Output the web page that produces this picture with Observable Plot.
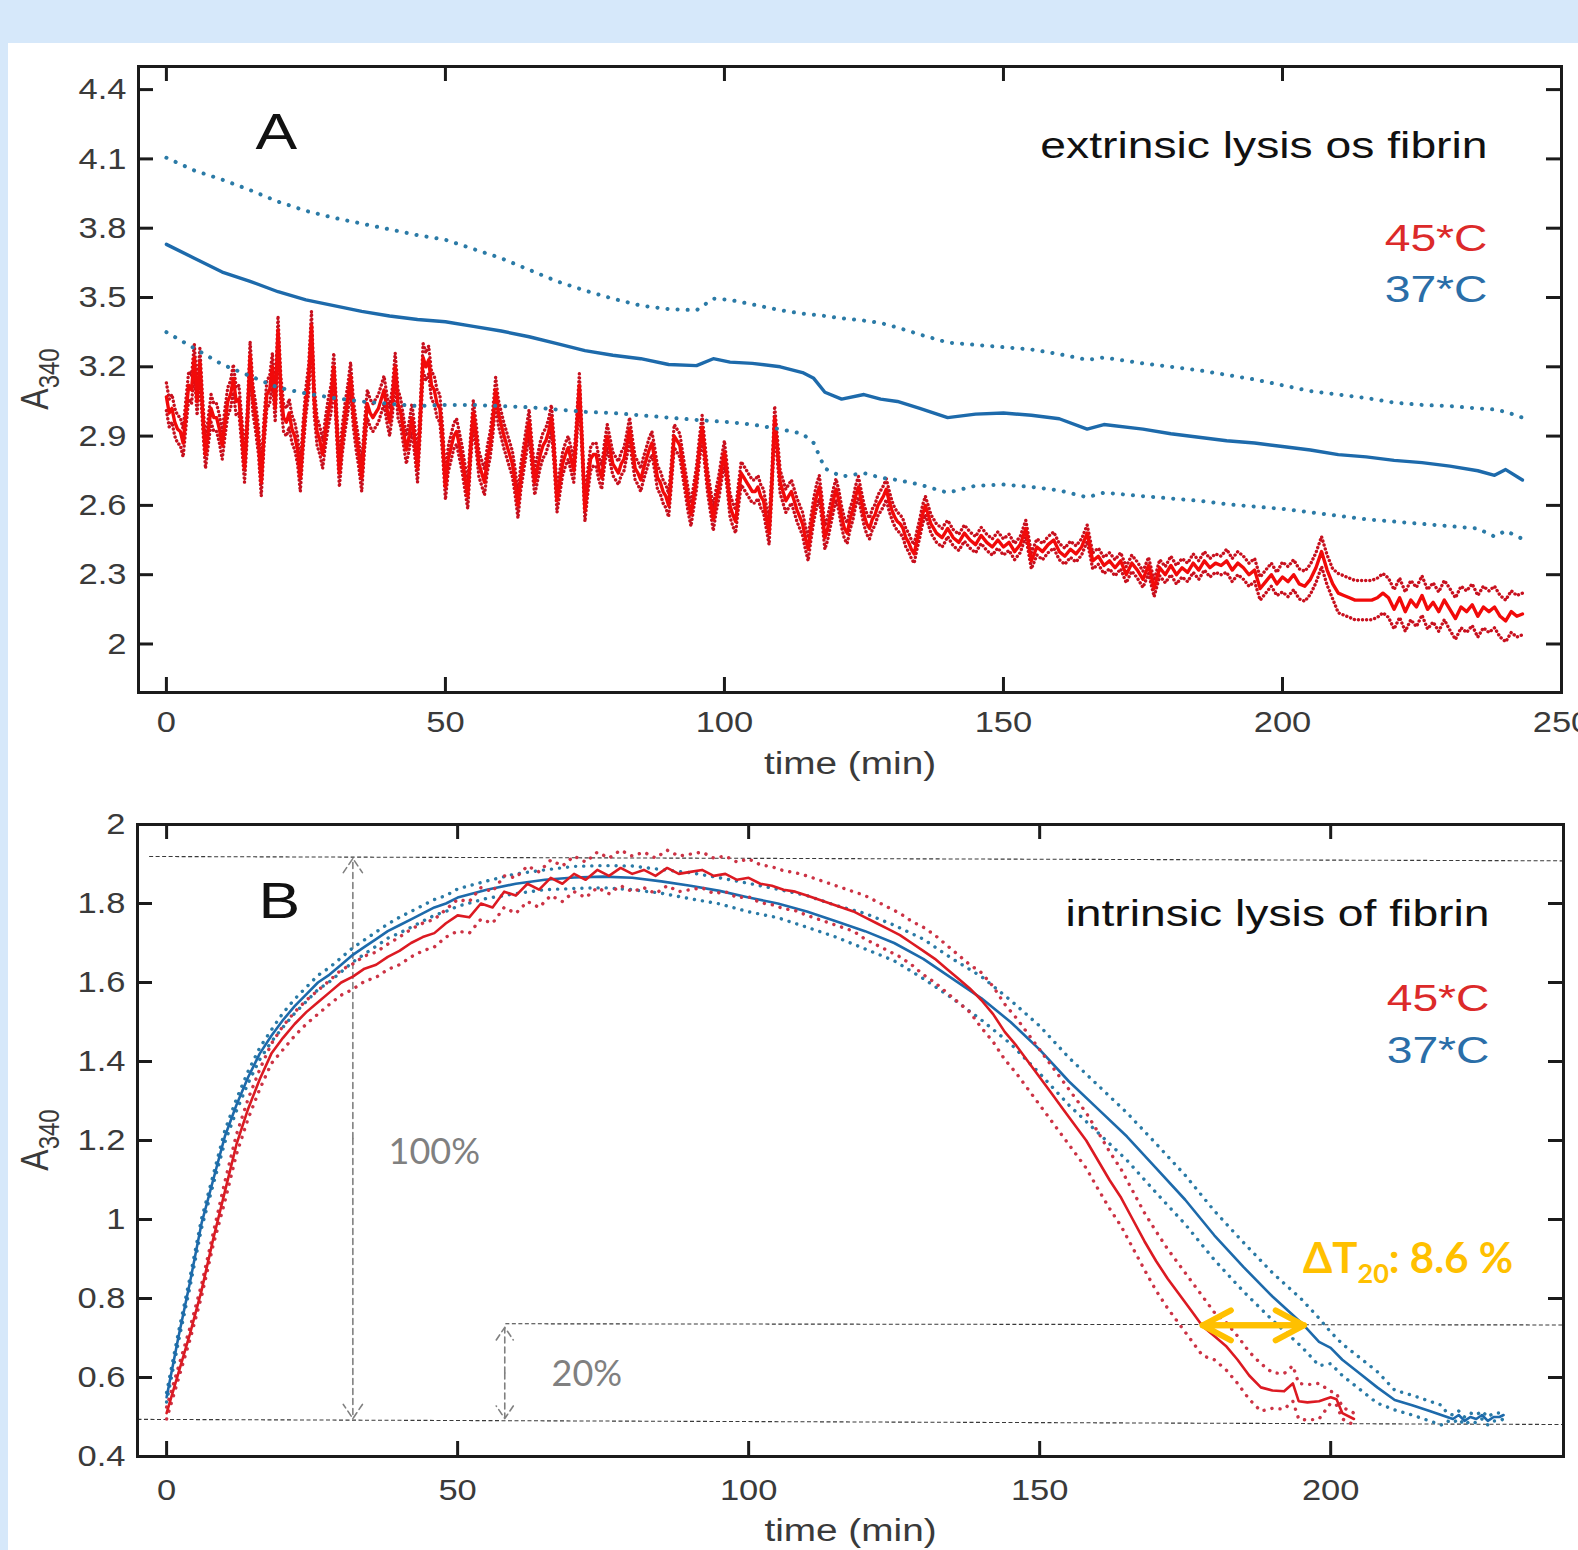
<!DOCTYPE html>
<html><head><meta charset="utf-8">
<script src="https://cdn.jsdelivr.net/npm/d3@7"></script>
<script src="https://cdn.jsdelivr.net/npm/@observablehq/plot@0.6"></script>
<style>
html,body{margin:0;padding:0;width:1578px;height:1550px;overflow:hidden;background:#d6e8fa;}
#page{position:relative;width:1578px;height:1550px;}
#sheet{position:absolute;left:8px;top:43px;width:1570px;height:1507px;background:#fff;}
#a{position:absolute;left:0;top:0;}
#b{position:absolute;left:0;top:800px;}
</style></head>
<body><div id="page"><div id="sheet"></div><div id="a"></div><div id="b"></div></div>
<script>
// ---------------- DATA ----------------
// Panel A : extrinsic lysis, A340 vs time (min)
const xTicksA = [0, 50, 100, 150, 200, 250];
const yTicksA = [2, 2.3, 2.6, 2.9, 3.2, 3.5, 3.8, 4.1, 4.4];
// 45*C mean, read at every whole minute (t = 0..243)
const redAMean = [
 3.07,3.02,2.93,2.87,3.12,3.24,3.22,2.82,3.02,2.98,
 2.86,3.05,3.15,3.06,2.76,3.25,2.98,2.70,3.08,3.20,
 3.36,2.98,3.00,2.90,2.72,3.05,3.38,2.92,2.82,3.00,
 3.20,2.74,2.98,3.16,2.90,2.72,3.04,2.98,3.02,3.10,
 2.96,3.20,3.00,2.84,2.98,2.76,3.24,3.23,3.10,3.02,
 2.68,2.85,2.92,2.80,2.64,3.00,2.78,2.70,2.86,3.10,
 2.95,2.86,2.78,2.60,2.80,2.96,2.70,2.82,2.88,2.98,
 2.62,2.78,2.85,2.75,3.12,2.58,2.80,2.82,2.72,2.90,
 2.78,2.74,2.80,2.93,2.76,2.71,2.80,2.87,2.72,2.66,
 2.60,2.90,2.86,2.70,2.56,2.72,2.94,2.70,2.54,2.68,
 2.83,2.60,2.53,2.74,2.70,2.66,2.68,2.62,2.48,2.98,
 2.70,2.62,2.66,2.58,2.52,2.41,2.58,2.68,2.46,2.56,
 2.67,2.55,2.48,2.58,2.68,2.56,2.50,2.56,2.62,2.67,
 2.58,2.53,2.50,2.44,2.39,2.50,2.60,2.52,2.48,2.46,
 2.50,2.46,2.44,2.48,2.45,2.43,2.47,2.44,2.42,2.45,
 2.42,2.44,2.40,2.43,2.50,2.36,2.42,2.40,2.43,2.45,
 2.40,2.38,2.41,2.39,2.42,2.48,2.36,2.38,2.34,2.36,
 2.33,2.36,2.30,2.35,2.32,2.28,2.34,2.24,2.33,2.30,
 2.34,2.30,2.33,2.31,2.35,2.32,2.36,2.33,2.35,2.34,
 2.36,2.32,2.35,2.33,2.30,2.32,2.24,2.27,2.30,2.26,
 2.29,2.27,2.30,2.26,2.25,2.28,2.33,2.40,2.32,2.26,
 2.22,2.21,2.20,2.19,2.19,2.19,2.19,2.20,2.22,2.20,
 2.15,2.20,2.14,2.19,2.16,2.21,2.15,2.18,2.14,2.19,
 2.15,2.11,2.16,2.14,2.17,2.12,2.16,2.14,2.16,2.12,
 2.10,2.14,2.12,2.13
];
// 45*C mean between the whole minutes (t = 0.5 .. 139.5), the dense noisy stretch
const redAHalf = [
 3.00,2.96,2.92,3.00,3.10,3.05,3.00,2.92,2.98,2.93,
 2.96,3.08,3.05,2.92,2.96,3.06,2.88,2.92,3.10,3.02,
 3.10,2.96,2.93,2.84,2.90,3.15,3.05,2.88,2.92,3.06,
 2.96,2.88,3.06,3.00,2.82,2.90,3.00,3.00,3.06,3.02,
 3.05,3.04,2.92,2.90,2.88,2.98,3.20,3.12,3.04,2.88,
 2.80,2.90,2.86,2.72,2.84,2.90,2.74,2.80,2.96,3.00,
 2.90,2.82,2.70,2.72,2.88,2.82,2.76,2.86,2.92,2.82,
 2.70,2.82,2.80,2.92,2.86,2.70,2.82,2.76,2.82,2.84,
 2.76,2.78,2.86,2.84,2.74,2.76,2.84,2.80,2.70,2.64,
 2.74,2.88,2.78,2.62,2.64,2.84,2.82,2.62,2.62,2.76,
 2.72,2.56,2.64,2.72,2.68,2.66,2.64,2.55,2.70,2.84,
 2.66,2.64,2.62,2.55,2.46,2.50,2.64,2.58,2.50,2.62,
 2.62,2.50,2.54,2.64,2.62,2.52,2.54,2.60,2.64,2.62,
 2.55,2.52,2.46,2.41,2.45,2.56,2.56,2.50,2.47,2.48
];
// 45*C standard deviation, one value per 10-minute block
const redASd = [0.06,0.06,0.06,0.06,0.06,0.055,0.055,0.05,0.05,0.05,0.05,0.05,0.045,0.04,0.035,0.035,0.035,0.035,0.04,0.05,0.065,0.085,0.085,0.09,0.09];
// 37*C
const blueATime  = [0,5,10,15,20,25,30,35,40,45,50,55,60,65,70,75,80,85,90,95,98,101,105,110,114,116,118,121,125,128,131,135,140,145,150,155,160,165,168,175,180,185,190,195,200,205,210,215,220,225,230,235,238,240,243];
const blueAMean  = [3.73,3.67,3.61,3.57,3.525,3.49,3.465,3.44,3.42,3.405,3.395,3.375,3.355,3.33,3.30,3.27,3.25,3.235,3.21,3.205,3.235,3.22,3.215,3.20,3.175,3.15,3.09,3.06,3.08,3.06,3.05,3.02,2.98,2.995,3.00,2.99,2.975,2.93,2.95,2.93,2.91,2.895,2.88,2.87,2.855,2.84,2.82,2.81,2.795,2.785,2.77,2.75,2.73,2.755,2.71];
const blueAUpper = [4.105,4.05,4.01,3.965,3.915,3.875,3.845,3.82,3.795,3.77,3.75,3.71,3.67,3.62,3.57,3.53,3.495,3.465,3.45,3.445,3.495,3.49,3.47,3.445,3.43,3.425,3.42,3.41,3.40,3.39,3.37,3.34,3.305,3.295,3.285,3.275,3.255,3.23,3.24,3.215,3.20,3.185,3.165,3.145,3.12,3.095,3.08,3.065,3.045,3.035,3.03,3.02,3.015,3.005,2.98];
const blueALower = [3.35,3.28,3.21,3.16,3.11,3.085,3.065,3.05,3.04,3.03,3.035,3.035,3.03,3.025,3.015,3.005,3.0,2.99,2.98,2.97,2.965,2.96,2.95,2.93,2.91,2.87,2.76,2.725,2.74,2.72,2.71,2.69,2.655,2.685,2.69,2.68,2.665,2.635,2.655,2.64,2.63,2.62,2.605,2.595,2.585,2.57,2.555,2.54,2.53,2.52,2.51,2.50,2.465,2.49,2.455];

// Panel B : intrinsic lysis
const xTicksB = [0, 50, 100, 150, 200];
const yTicksB = [0.4, 0.6, 0.8, 1, 1.2, 1.4, 1.6, 1.8, 2];
const redBTime = [0,2,4,6,8,10,12,14,16,18,20,22,24,26,28,30,32,34,36,38,40,42,44,46,48,50,52,54,56,58,60,62,64,66,68,70,72,74,76,78,80,82,84,86,88,90,92,94,96,98,100,102,104,106,108,110,112,114,116,118,120,122,124,126,128,130,132,134,136,138,140,142,144,146,148,150,152,154,156,158,160,162,164,166,168,170,172,174,176,178,180,182,184,186,188,190,192,193.5,194.5,196,198,200,201,202,204];
const redBMean = [0.51,0.61,0.71,0.82,0.95,1.07,1.19,1.28,1.355,1.42,1.46,1.495,1.525,1.55,1.575,1.60,1.615,1.635,1.645,1.665,1.68,1.70,1.715,1.725,1.75,1.77,1.765,1.80,1.79,1.83,1.82,1.85,1.835,1.865,1.85,1.875,1.86,1.885,1.87,1.89,1.875,1.885,1.87,1.89,1.875,1.88,1.885,1.87,1.875,1.86,1.865,1.85,1.845,1.835,1.83,1.82,1.81,1.80,1.79,1.78,1.765,1.75,1.735,1.72,1.70,1.68,1.66,1.635,1.61,1.585,1.555,1.52,1.475,1.44,1.40,1.36,1.32,1.28,1.24,1.20,1.15,1.10,1.055,1.00,0.945,0.895,0.85,0.81,0.77,0.73,0.705,0.68,0.645,0.605,0.575,0.567,0.565,0.585,0.54,0.537,0.54,0.55,0.545,0.51,0.495];
const redBSd = [0.015,0.025,0.03,0.032,0.035,0.04,0.045,0.045,0.045,0.045,0.048,0.05,0.055,0.06,0.07,0.07,0.072,0.075,0.06,0.045,0.015];
const blueBTime = [0,2,4,6,8,10,12,14,16,18,20,22,24,26,28,30,32,34,36,38,40,42,44,46,48,50,55,60,65,70,75,80,85,90,95,100,105,110,115,120,125,130,135,140,145,150,155,160,165,170,175,180,185,190,195,198,200,202,205,208,211,214,217,219,220,221,222,223,224,225,226,227,228,229,229.7];
const blueBMean = [0.55,0.70,0.84,0.99,1.10,1.21,1.29,1.36,1.42,1.465,1.505,1.54,1.57,1.60,1.62,1.645,1.67,1.69,1.71,1.73,1.745,1.76,1.775,1.79,1.80,1.815,1.835,1.85,1.86,1.866,1.868,1.865,1.856,1.845,1.832,1.815,1.80,1.78,1.755,1.73,1.70,1.66,1.61,1.56,1.50,1.43,1.35,1.28,1.21,1.13,1.05,0.96,0.88,0.805,0.738,0.69,0.675,0.645,0.61,0.575,0.543,0.53,0.515,0.505,0.50,0.495,0.505,0.49,0.50,0.495,0.505,0.49,0.50,0.50,0.505];
const blueBSd = [0.012,0.015,0.018,0.018,0.02,0.022,0.025,0.028,0.03,0.033,0.036,0.04,0.045,0.05,0.055,0.06,0.06,0.062,0.062,0.06,0.04,0.025,0.01,0.01];
// reference levels drawn on panel B (maximum, baseline, 20 % level)
const refX1 = [-3, -5, 58.2];
const refY1 = [1.919, 0.494, 0.736];
const refX2 = [240, 240, 240];
const refY2 = [1.908, 0.481, 0.733];
// measuring arrows: 100 % span and 20 % span
const spanT    = [32, 58.1];
const spanLow  = [0.496, 0.496];
const spanHigh = [1.914, 0.727];
// ΔT20 arrow between the two curves at the 20 % level
const dT20Start = 178.0, dT20End = 195.4, dT20Level = 0.732;

const titleA = "extrinsic lysis os fibrin";
const titleB = "intrinsic lysis of fibrin";
const series = ["45*C", "37*C"];
const xLabel = "time (min)";
const yLabelMain = "A", yLabelSub = "340";

// ---------------- STYLE ----------------
const FONT = "'Liberation Sans', Arial, Helvetica, sans-serif";
const ANNOT = "Lato, 'Open Sans', sans-serif";
const INK = "#1b1b1b", LABEL = "#3a3a3a";
const RED = "#f10a0a", RED_DOT = "#c8101e";
const REDB = "#dc1a22", REDB_DOT = "#cc3345";
const BLUE = "#1d6aab", BLUE_DOT = "#2a7aa6";
const LEG_RED = "#dc2a2a", LEG_BLUE = "#2a6ea8";
const GRAY = "#808080", ORANGE = "#ffc000";
const W = 1578;

// ---------------- TABLES ----------------
const sdA = t => redASd[Math.floor(t / 10)];
const redA = [
  ...redAMean.map((v, i) => ({t: i, v})),
  ...redAHalf.map((v, i) => ({t: i + 0.5, v}))
].sort((a, b) => a.t - b.t).map(d => ({...d, lo: d.v - sdA(d.t), hi: d.v + sdA(d.t)}));
const blueA = blueATime.map((t, i) => ({t, v: blueAMean[i], hi: blueAUpper[i], lo: blueALower[i]}));
const redB = redBTime.map((t, i) => ({t, v: redBMean[i], lo: redBMean[i] - redBSd[Math.floor(t / 10)], hi: redBMean[i] + redBSd[Math.floor(t / 10)]}));
const blueB = blueBTime.map((t, i) => ({t, v: blueBMean[i], lo: blueBMean[i] - blueBSd[Math.floor(t / 10)], hi: blueBMean[i] + blueBSd[Math.floor(t / 10)]}));
const refLines = refX1.map((x, i) => ({x1: x, y1: refY1[i], x2: refX2[i], y2: refY2[i]}));
const spanHalves = spanT.flatMap((t, i) => {
  const mid = (spanLow[i] + spanHigh[i]) / 2;
  return [{t, from: mid, to: spanHigh[i]}, {t, from: mid, to: spanLow[i]}];
});

function frameTicks(xt, yt, innerW, innerH, len) {
  const s = {stroke: INK, strokeWidth: 3};
  return [
    Plot.tickX(xt, {x: d => d, insetTop: innerH - len, ...s}),
    Plot.tickX(xt, {x: d => d, insetBottom: innerH - len, ...s}),
    Plot.tickY(yt, {y: d => d, insetRight: innerW - len, ...s}),
    Plot.tickY(yt, {y: d => d, insetLeft: innerW - len, ...s})
  ];
}
function yLabelMark(baseX) {
  return (index, scales, values, dims) => {
    const cy = (dims.marginTop + dims.height - dims.marginBottom) / 2;
    const t = d3.create("svg:text")
      .attr("transform", `translate(${baseX},${cy}) rotate(-90) scale(1,1.2)`)
      .attr("text-anchor", "middle").attr("font-family", FONT)
      .attr("font-size", 32).attr("fill", LABEL);
    t.append("tspan").text(yLabelMain);
    t.append("tspan").attr("font-size", 24).attr("dy", "0.38em").text(yLabelSub);
    return t.node();
  };
}
function dT20Label(dx, dy) {
  return (index, scales, values, dims) => {
    const t = d3.create("svg:text")
      .attr("x", dims.marginLeft + dx).attr("y", dims.marginTop + dy)
      .attr("text-anchor", "start")
      .attr("font-family", ANNOT).attr("font-weight", 700)
      .attr("font-size", 42).attr("fill", ORANGE);
    t.append("tspan").text("ΔT");
    t.append("tspan").attr("font-size", 27).attr("dy", 10).text("20");
    t.append("tspan").attr("dy", -10).text(": 8.6 %");
    return t.node();
  };
}
function stretch(svg) {
  const apply = (el, sx) => {
    let tr = el.getAttribute("transform");
    if (!tr) {
      const x = el.getAttribute("x") || 0, y = el.getAttribute("y") || 0;
      tr = `translate(${x},${y}) scale(${sx},1) translate(${-x},${-y})`;
    } else tr += ` scale(${sx},1)`;
    el.setAttribute("transform", tr);
  };
  svg.querySelectorAll('g[aria-label="x-axis tick label"] text, g[aria-label="y-axis tick label"] text').forEach(el => apply(el, 1.15));
  svg.querySelectorAll('g[aria-label="text"]').forEach(g => {
    const ff = g.getAttribute("font-family") || "";
    if (ff.includes("Lato")) return;
    g.querySelectorAll("text").forEach(el => apply(el, 1.25));
  });
}
function textMarks(title, titleDy, legDy1, legDy2, letter, letterDx, letterDy, xLabDy) {
  return [
    Plot.text([letter], {frameAnchor: "top-left", dx: letterDx, dy: letterDy, lineAnchor: "bottom", textAnchor: "start", fontSize: 50, fill: "#111"}),
    Plot.text([title], {frameAnchor: "top-right", dx: -74, dy: titleDy, lineAnchor: "bottom", textAnchor: "end", fontSize: 37, fill: "#111"}),
    Plot.text([series[0]], {frameAnchor: "top-right", dx: -74, dy: legDy1, lineAnchor: "bottom", textAnchor: "end", fontSize: 37, fill: LEG_RED}),
    Plot.text([series[1]], {frameAnchor: "top-right", dx: -74, dy: legDy2, lineAnchor: "bottom", textAnchor: "end", fontSize: 37, fill: LEG_BLUE}),
    Plot.text([xLabel], {frameAnchor: "bottom", dy: xLabDy, lineAnchor: "bottom", fontSize: 31, fill: LABEL})
  ];
}
const dotted = (color, w, gap) => ({stroke: color, strokeWidth: w, strokeDasharray: `0.1 ${gap}`, strokeLinecap: "round"});

// ---------------- PANEL A ----------------
{
  const H = 800, mt = 66, mb = 108, ml = 138, mr = 17;
  const iw = W - ml - mr, ih = H - mt - mb;
  const svg = Plot.plot({
    width: W, height: H, marginTop: mt, marginBottom: mb, marginLeft: ml, marginRight: mr,
    style: {background: "transparent", fontFamily: FONT, fontSize: "30px", overflow: "visible"},
    x: {domain: [-5, 250]},
    y: {domain: [1.79, 4.5]},
    marks: [
      Plot.line(redA, {x: "t", y: "hi", ...dotted(RED_DOT, 3.4, 4)}),
      Plot.line(redA, {x: "t", y: "lo", ...dotted(RED_DOT, 3.4, 4)}),
      Plot.line(redA, {x: "t", y: "v", stroke: RED, strokeWidth: 3.4}),
      Plot.line(blueA, {x: "t", y: "hi", ...dotted(BLUE_DOT, 4, 10)}),
      Plot.line(blueA, {x: "t", y: "lo", ...dotted(BLUE_DOT, 4, 10)}),
      Plot.line(blueA, {x: "t", y: "v", stroke: BLUE, strokeWidth: 3.4}),
      Plot.frame({stroke: INK, strokeWidth: 3}),
      ...frameTicks(xTicksA, yTicksA, iw, ih, 15),
      Plot.axisX({ticks: xTicksA, anchor: "bottom", tickSize: 0, tickPadding: 18, label: null, color: LABEL, tickFormat: d => String(d)}),
      Plot.axisY({ticks: yTicksA, anchor: "left", tickSize: 0, tickPadding: 12, label: null, color: LABEL, tickFormat: d => String(d)}),
      ...textMarks(titleA, 91, 184, 235, "A", 117, 82, 81),
      yLabelMark(48)
    ]
  });
  stretch(svg);
  document.getElementById("a").appendChild(svg);
}

// ---------------- PANEL B ----------------
{
  const H = 750, mt = 24, mb = 94, ml = 137, mr = 15;
  const iw = W - ml - mr, ih = H - mt - mb;
  const svg = Plot.plot({
    width: W, height: H, marginTop: mt, marginBottom: mb, marginLeft: ml, marginRight: mr,
    style: {background: "transparent", fontFamily: FONT, fontSize: "30px", overflow: "visible"},
    x: {domain: [-5, 240]},
    y: {domain: [0.4, 2.0]},
    marks: [
      Plot.link(refLines, {x1: "x1", y1: "y1", x2: "x2", y2: "y2", stroke: "#3a3a3a", strokeWidth: 1.1, strokeDasharray: "4 2.5"}),
      Plot.arrow(spanHalves, {x1: "t", x2: "t", y1: "from", y2: "to", stroke: GRAY, strokeWidth: 1.6, strokeDasharray: "6 4", headLength: 16, headAngle: 68}),
      Plot.line(blueB, {x: "t", y: "hi", ...dotted(BLUE_DOT, 3.4, 8)}),
      Plot.line(blueB, {x: "t", y: "lo", ...dotted(BLUE_DOT, 3.4, 8)}),
      Plot.line(blueB, {x: "t", y: "v", stroke: BLUE, strokeWidth: 2.6}),
      Plot.line(redB, {x: "t", y: "hi", ...dotted(REDB_DOT, 3.4, 8)}),
      Plot.line(redB, {x: "t", y: "lo", ...dotted(REDB_DOT, 3.4, 8)}),
      Plot.line(redB, {x: "t", y: "v", stroke: REDB, strokeWidth: 2.6}),
      Plot.arrow([{a: dT20Start, b: dT20End}, {a: dT20End, b: dT20Start}], {x1: "a", x2: "b", y1: () => dT20Level, y2: () => dT20Level, stroke: ORANGE, strokeWidth: 6, headLength: 8, headAngle: 56, strokeLinecap: "round", strokeLinejoin: "round"}),
      Plot.frame({stroke: INK, strokeWidth: 3}),
      ...frameTicks(xTicksB, yTicksB, iw, ih, 15),
      Plot.axisX({ticks: xTicksB, anchor: "bottom", tickSize: 0, tickPadding: 22, label: null, color: LABEL, tickFormat: d => String(d)}),
      Plot.axisY({ticks: yTicksB, anchor: "left", tickSize: 0, tickPadding: 12, label: null, color: LABEL, tickFormat: d => String(d)}),
      ...textMarks(titleB, 101, 186, 238, "B", 121, 93, 84),
      Plot.text(["100%"], {frameAnchor: "top-left", dx: 251, dy: 339, lineAnchor: "bottom", textAnchor: "start", fontFamily: ANNOT, fontSize: 36, fill: GRAY}),
      Plot.text(["20%"], {frameAnchor: "top-left", dx: 414, dy: 561, lineAnchor: "bottom", textAnchor: "start", fontFamily: ANNOT, fontSize: 36, fill: GRAY}),
      dT20Label(1166, 449),
      yLabelMark(48)
    ]
  });
  stretch(svg);
  document.getElementById("b").appendChild(svg);
}
</script></body></html>
